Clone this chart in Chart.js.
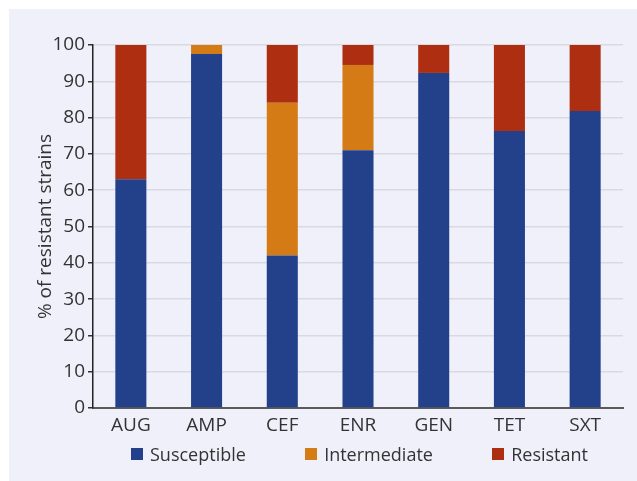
<!DOCTYPE html>
<html>
<head>
<meta charset="utf-8">
<script src="https://cdn.jsdelivr.net/npm/chart.js@4"></script>
<style>
    html, body { margin: 0; padding: 0; width: 100%; height: 100%; overflow: hidden; background: #eff0fa; }
    body { box-sizing: border-box; border-top: 9px solid #ffffff; border-left: 9px solid #ffffff; }
    #panel {
        position: absolute;
        left: 9px; top: 9px; right: 0; bottom: 0;
        background: #eff0fa;
        overflow: hidden;
    }
    #chart { display: block; position: absolute; left: 0; top: 0; }
    #legend {
        position: absolute;
        left: 122px; width: 457px; top: 433px;
        display: flex; justify-content: space-between;
        font-family: 'Open Sans', sans-serif; font-size: 18px; color: #333;
    }
    #legend .item { display: flex; align-items: center; white-space: nowrap; }
    #legend .box { width: 12px; height: 12px; margin-right: 7px; }
</style>
</head>
<body>
<div id="panel">
    <canvas id="chart" width="628" height="472"></canvas>
    <div id="legend"></div>
</div>
<script>
const drugs = ['AUG', 'AMP', 'CEF', 'ENR', 'GEN', 'TET', 'SXT'];
const susceptible = [63, 97.5, 42, 71, 92.3, 76.3, 81.8];
const intermediate = [0, 2.5, 42.1, 23.5, 0, 0, 0];
const resistant = [37, 0, 15.9, 5.5, 7.7, 23.7, 18.2];
const yTicks = [0, 10, 20, 30, 40, 50, 60, 70, 80, 90, 100];

main();

function main() {
    const font = { family: 'Open Sans', size: 19 };

    // legend en HTML (comme l'exemple htmlLegend de Chart.js)
    const htmlLegend = {
        id: 'htmlLegend',
        afterUpdate(chart) {
            const el = document.getElementById('legend');
            el.innerHTML = '';
            chart.data.datasets.forEach((ds) => {
                const item = document.createElement('div');
                item.className = 'item';
                const box = document.createElement('span');
                box.className = 'box';
                box.style.background = ds.backgroundColor;
                const txt = document.createElement('span');
                txt.textContent = ds.label;
                item.appendChild(box);
                item.appendChild(txt);
                el.appendChild(item);
            });
        },
    };

    const ctx = document.getElementById('chart');
    new Chart(ctx, {
        type: 'bar',
        data: {
            labels: drugs,
            datasets: [
                { label: 'Susceptible', data: susceptible, backgroundColor: '#22418a' },
                { label: 'Intermediate', data: intermediate, backgroundColor: '#d47b15' },
                { label: 'Resistant', data: resistant, backgroundColor: '#ad2e10' },
            ],
        },
        options: {
            responsive: false,
            animation: false,
            layout: { padding: { left: 0, top: 36, right: 14, bottom: 33 } },
            datasets: {
                bar: { barPercentage: 0.41, categoryPercentage: 1 },
            },
            scales: {
                x: {
                    stacked: true,
                    grid: { display: false, drawTicks: false },
                    border: { color: '#5a5a5a', width: 2 },
                    ticks: { color: '#333', font, padding: 6 },
                    afterFit: (scale) => { scale.height = 40; },
                },
                y: {
                    stacked: true,
                    min: 0,
                    max: 100,
                    afterBuildTicks: (scale) => { scale.ticks = yTicks.map(v => ({ value: v })); },
                    grid: { color: '#d9d9e2', lineWidth: 1.5, tickColor: '#333', tickLength: 5 },
                    border: { color: '#222', width: 1.5 },
                    ticks: { color: '#333', font, padding: 3 },
                    title: { display: true, text: '% of resistant strains', color: '#333', font, padding: { top: 25, bottom: 0 } },
                    afterFit: (scale) => { scale.width = 84; },
                },
            },
            plugins: {
                legend: { display: false },
                tooltip: { enabled: false },
            },
        },
        plugins: [htmlLegend],
    });
}
</script>
</body>
</html>
